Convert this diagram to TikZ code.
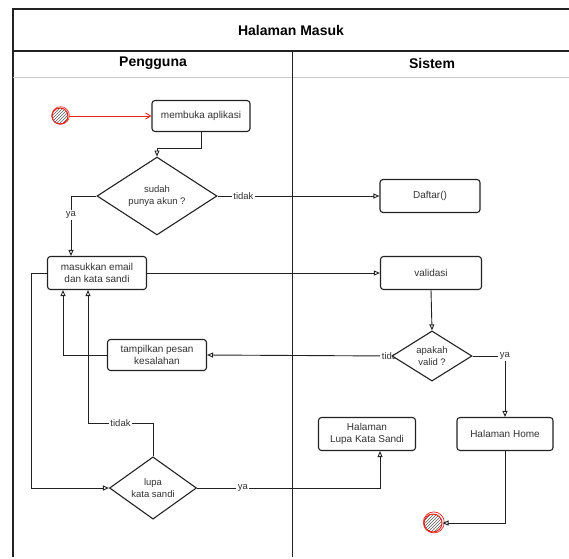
\documentclass[tikz,border=0pt]{standalone}
\usepackage{fontspec}
\setmainfont{Liberation Sans}
\usetikzlibrary{arrows.meta,patterns,shapes.geometric}

\definecolor{ink}{HTML}{222222}
\definecolor{txt}{HTML}{333333}
\definecolor{startred}{HTML}{E8241E}

\tikzset{
  act/.style={draw=ink, line width=1.1pt, rounded corners=3pt, fill=white,
    align=center, text=txt, font=\fontsize{10}{12.5}\selectfont,
    minimum height=33pt, inner sep=2pt},
  dec/.style={draw=ink, line width=1.1pt, diamond, fill=white, align=center,
    text=txt, font=\fontsize{9.5}{12}\selectfont, inner sep=0pt},
  flow/.style={draw=ink, line width=0.9pt,
    -{Triangle[open,length=6pt,width=5pt]}},
  lbl/.style={fill=white, text=txt, font=\fontsize{9.5}{11}\selectfont,
    inner sep=1.5pt},
  lane/.style={draw=ink, line width=1.1pt},
  head/.style={font=\bfseries\fontsize{14}{16}\selectfont, text=black},
  terminal/.style={circle, draw=startred, line width=1pt, minimum size=16pt,
    inner sep=0pt, pattern=north east lines, pattern color=gray!70!black}
}

\begin{document}
\begin{tikzpicture}[x=1pt, y=-1pt]
  \useasboundingbox (0,0) rectangle (569,558);

  % swimlane frame
  \draw[lane] (569,9) -- (13,9) -- (13,557);
  \draw[lane] (13,51) -- (569,51);
  \draw[gray!45, line width=0.8pt] (13,77) -- (569,77);
  \draw[lane] (292.5,51) -- (292.5,557);
  \node[head] (title) at (291,30) {Halaman Masuk};
  \node[head] (lanea) at (153,63) {Pengguna};
  \node[head] (laneb) at (432,63) {Sistem};

  % activities
  \node[act, minimum width=98pt, minimum height=31pt] (open) at (201,116) {membuka aplikasi};
  \node[dec, minimum width=120pt, minimum height=60pt] (akun) at (157,196) {sudah\\punya akun ?};
  \node[act, minimum width=100pt] (daftar) at (430,196) {Daftar()};
  \node[act, minimum width=99pt] (masuk) at (97,273) {masukkan email\\dan kata sandi};
  \node[act, minimum width=101pt] (valid) at (431,273) {validasi};
  \node[act, minimum width=99pt, minimum height=31pt] (salah) at (157,355) {tampilkan pesan\\kesalahan};
  \node[act, minimum width=97pt] (lupahal) at (367,434) {Halaman\\Lupa Kata Sandi};
  \node[act, minimum width=96pt] (home) at (505,434) {Halaman Home};
  \node[dec, minimum width=87pt, minimum height=50pt] (lupa) at (153,488) {lupa\\kata sandi};

  % start and end points
  \node[terminal] (start) at (60,116) {};
  \node[terminal, minimum size=18pt] (stop) at (433,523) {};
  \draw[startred, line width=0.7pt] (433.8,522.4) circle (10.5pt);
  \draw[startred, line width=0.6pt] (60.6,115.5) circle (8.8pt);

  % bend points
  \coordinate (tk) at (88,423);
  \coordinate (lk) at (31,488);
  \coordinate (cw) at (392,356);

  % the rejection branch is drawn first so the decision covers its label
  \draw[flow] (cw) -- node[lbl, pos=0.0] {tidak} (salah.east);
  \node[dec, minimum width=80pt, minimum height=48pt] (cek) at (432,356) {apakah\\valid ?};

  % connectors
  \draw[draw=startred, line width=0.9pt, -{Straight Barb[length=5pt,width=6pt]}] (start) -- (open);
  \draw[flow] (open.south) -- ++(0,16) -| (akun.north);
  \draw[flow] (akun.east) -- node[lbl, pos=0.16] {tidak} (daftar.west);
  \draw[flow] (akun.west) -| node[lbl, pos=0.66] {ya} ([xshift=-26pt]masuk.north);
  \draw[flow] (masuk.east) -- (valid.west);
  \draw[flow] (valid.south) -- (cek.north);
  \draw[flow] (cek.east) -| node[lbl, pos=0.5] {ya} (home.north);
  \draw[flow] (salah.west) -| ([xshift=-34pt]masuk.south);
  \draw[flow] (home.south) |- (stop.east);
  \draw[flow] (lupa.east) -| node[lbl, pos=0.125] {ya} ([xshift=13pt]lupahal.south);
  \draw[flow] (lupa.north) |- node[lbl, pos=0.75] {tidak} (tk) -- (tk |- masuk.south);
  \draw[flow] (masuk.west) -| (lk) -- (lupa.west);
\end{tikzpicture}
\end{document}
